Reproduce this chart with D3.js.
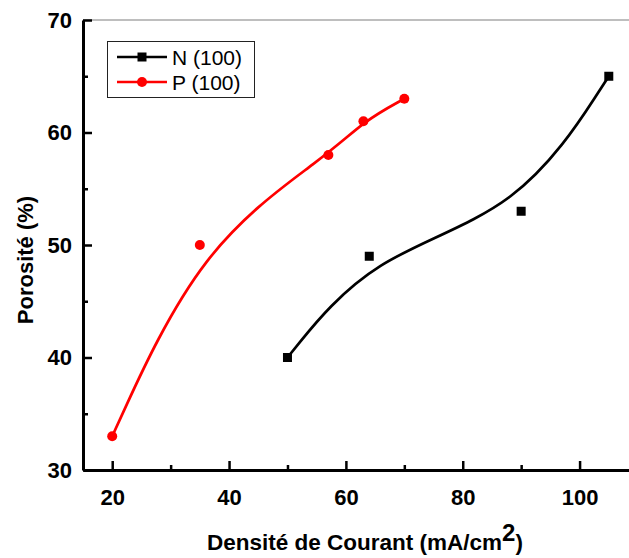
<!DOCTYPE html>
<html>
<head>
    <title>Porosité vs Densité de Courant</title>
    <script src="https://d3js.org/d3.v7.min.js"></script>
    <style>
        body { margin: 0; background: #fff; }
        svg { display: block; font-family: "Liberation Sans", Arial, sans-serif; }
        .tick text { font-weight: bold; font-size: 22px; fill: #000; }
    </style>
</head>
<body>
    <div id="chart"></div>

    <script>
        // series
        const nCurrent = [50, 64, 90, 105];
        const nPorosity = [40, 49, 53, 65];
        const pCurrent = [20, 35, 57, 63, 70];
        const pPorosity = [33, 50, 58, 61, 63];

        const xMajor = [20, 40, 60, 80, 100];
        const xMinor = [30, 50, 70, 90, 110];
        const yMajor = [30, 40, 50, 60, 70];
        const yMinor = [35, 45, 55, 65];

        const seriesNames = ["N (100)", "P (100)"];
        const seriesColors = ["#000000", "#ff0000"];

        const width = 629;
        const height = 558;

        // plot spans past the right edge, the picture is cropped there
        const x = d3.scaleLinear().domain([15, 110]).range([83, 638]);
        const y = d3.scaleLinear().domain([30, 70]).range([470, 20]);

        const svg = d3.select("#chart")
            .append("svg")
            .attr("width", width)
            .attr("height", height);

        // top frame line (grey, thin)
        svg.append("line")
            .attr("x1", x(15)).attr("x2", x(110))
            .attr("y1", y(70)).attr("y2", y(70))
            .attr("stroke", "#7f7f7f")
            .attr("stroke-width", 1.2);

        // minor ticks
        svg.append("g")
            .attr("transform", `translate(0,${y(30)})`)
            .call(d3.axisBottom(x).tickValues(xMinor).tickSize(-5).tickFormat(""))
            .call(g => g.select(".domain").remove())
            .selectAll("line").attr("stroke", "#000").attr("stroke-width", 2.5);

        svg.append("g")
            .attr("transform", `translate(${x(15)},0)`)
            .call(d3.axisLeft(y).tickValues(yMinor).tickSize(-5).tickFormat(""))
            .call(g => g.select(".domain").remove())
            .selectAll("line").attr("stroke", "#000").attr("stroke-width", 2.5);

        // major ticks + labels
        const xAxis = svg.append("g")
            .attr("transform", `translate(0,${y(30)})`)
            .call(d3.axisBottom(x).tickValues(xMajor).tickSize(-9).tickSizeOuter(0).tickPadding(19));
        xAxis.select(".domain").attr("stroke", "#000").attr("stroke-width", 3);
        xAxis.selectAll(".tick line").attr("stroke", "#000").attr("stroke-width", 2.5);

        const yAxis = svg.append("g")
            .attr("transform", `translate(${x(15)},0)`)
            .call(d3.axisLeft(y).tickValues(yMajor).tickSize(-9).tickSizeOuter(0).tickPadding(20));
        yAxis.select(".domain").attr("stroke", "#000").attr("stroke-width", 3);
        yAxis.selectAll(".tick line").attr("stroke", "#000").attr("stroke-width", 2.5);
        yAxis.selectAll(".tick text").attr("dx", 9);

        // axis titles
        const xTitle = svg.append("text")
            .attr("x", 365)
            .attr("y", 550)
            .attr("text-anchor", "middle")
            .attr("font-weight", "bold")
            .attr("font-size", 22.5);
        xTitle.append("tspan").text("Densité de Courant (mA/cm");
        xTitle.append("tspan").attr("dy", -9).attr("font-size", 24).text("2");
        xTitle.append("tspan").attr("dy", 9).text(")");

        svg.append("text")
            .attr("transform", "translate(33,260) rotate(-90)")
            .attr("text-anchor", "middle")
            .attr("font-weight", "bold")
            .attr("font-size", 22)
            .text("Porosité (%)");

        // series
        const line = d3.line()
            .x(d => x(d[0]))
            .y(d => y(d[1]))
            .curve(d3.curveBasis);

        const nData = nCurrent.map((v, i) => [v, nPorosity[i]]);
        const pData = pCurrent.map((v, i) => [v, pPorosity[i]]);

        svg.append("path")
            .datum(nData)
            .attr("d", line)
            .attr("fill", "none")
            .attr("stroke", seriesColors[0])
            .attr("stroke-width", 2.7);

        svg.append("path")
            .datum(pData)
            .attr("d", line)
            .attr("fill", "none")
            .attr("stroke", seriesColors[1])
            .attr("stroke-width", 2.7);

        svg.selectAll(".nmark")
            .data(nData)
            .enter()
            .append("rect")
            .attr("x", d => x(d[0]) - 4.5)
            .attr("y", d => y(d[1]) - 4.5)
            .attr("width", 9)
            .attr("height", 9)
            .attr("fill", seriesColors[0]);

        svg.selectAll(".pmark")
            .data(pData)
            .enter()
            .append("circle")
            .attr("cx", d => x(d[0]))
            .attr("cy", d => y(d[1]))
            .attr("r", 5)
            .attr("fill", seriesColors[1]);

        // legend
        const legend = svg.append("g");
        legend.append("rect")
            .attr("x", 107.5).attr("y", 41.5)
            .attr("width", 147).attr("height", 56)
            .attr("fill", "#fff")
            .attr("stroke", "#222")
            .attr("stroke-width", 1);

        seriesNames.forEach((name, i) => {
            const ry = 57 + i * 25;
            legend.append("line")
                .attr("x1", 117).attr("x2", 167)
                .attr("y1", ry).attr("y2", ry)
                .attr("stroke", seriesColors[i])
                .attr("stroke-width", 2.7);
            if (i === 0) {
                legend.append("rect")
                    .attr("x", 142 - 4.5).attr("y", ry - 4.5)
                    .attr("width", 9).attr("height", 9)
                    .attr("fill", seriesColors[i]);
            } else {
                legend.append("circle")
                    .attr("cx", 142).attr("cy", ry).attr("r", 5)
                    .attr("fill", seriesColors[i]);
            }
            legend.append("text")
                .attr("x", 172)
                .attr("y", ry + 7.5)
                .attr("font-size", 21)
                .text(name);
        });
    </script>
</body>
</html>
